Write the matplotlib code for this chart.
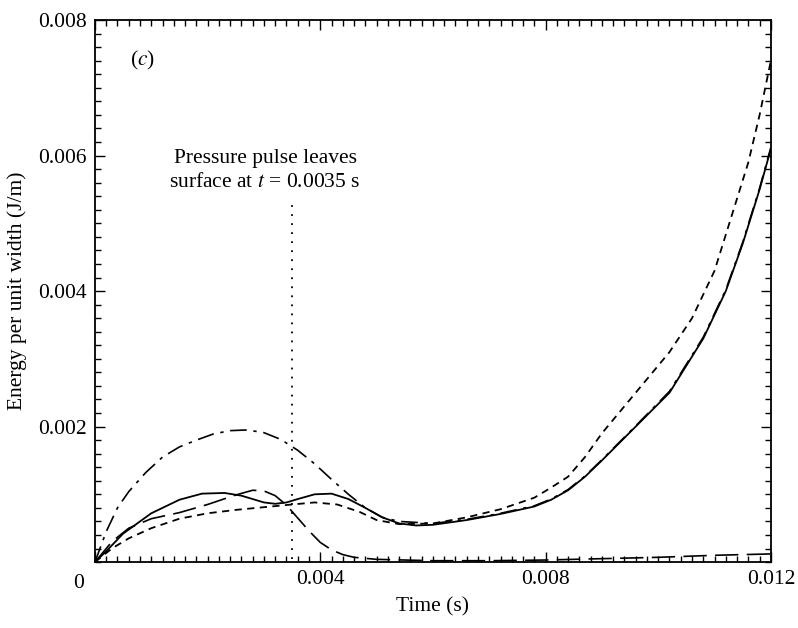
import numpy as np
import matplotlib.pyplot as plt
from matplotlib.ticker import MultipleLocator

plt.rcParams['font.family'] = ['Liberation Serif', 'DejaVu Serif']
plt.rcParams['mathtext.fontset'] = 'stix'

# solid curve
t_solid = [0, 0.0002, 0.0005, 0.001, 0.0015, 0.0019, 0.0023, 0.0026, 0.0028, 0.003, 0.0032,
           0.0034, 0.0036, 0.0039, 0.0042, 0.0045, 0.0048, 0.0051, 0.0054, 0.0057, 0.006,
           0.0066, 0.0072, 0.0078, 0.0081, 0.0084, 0.0087, 0.009, 0.0096, 0.0102,
           0.0108, 0.0112, 0.0115, 0.0118, 0.012]
e_solid = [0, 0.00016, 0.00042, 0.00072, 0.00092, 0.00101, 0.00102, 0.00098, 0.00093, 0.00088, 0.00086,
           0.00088, 0.00093, 0.001, 0.00101, 0.00093, 0.0008, 0.00066, 0.00057, 0.00054, 0.00055,
           0.00062, 0.00071, 0.00082, 0.00092, 0.00106, 0.00126, 0.0015, 0.002, 0.0025,
           0.0033, 0.004, 0.0047, 0.0055, 0.0061]

# short dashed curve
t_dash = [0, 0.0003, 0.0006, 0.001, 0.0015, 0.002, 0.0025, 0.003, 0.0035, 0.0039,
          0.0043, 0.0047, 0.005, 0.0054, 0.006, 0.0066, 0.0072, 0.0078, 0.0081, 0.0084,
          0.0087, 0.009, 0.0096, 0.0102, 0.0106, 0.011, 0.0113, 0.0116, 0.0118, 0.012]
e_dash = [0, 0.0002, 0.00035, 0.0005, 0.00064, 0.00072, 0.00077, 0.00081, 0.00085, 0.00088,
          0.00085, 0.00074, 0.00062, 0.00056, 0.00057, 0.00066, 0.00078, 0.00095, 0.0011, 0.00126,
          0.00155, 0.0019, 0.0025, 0.0031, 0.0036, 0.0043, 0.0051, 0.0059, 0.0066, 0.0074]

# dash-dot curve
t_dd = [0, 0.0002, 0.0004, 0.0006, 0.0009, 0.0012, 0.0015, 0.0018, 0.0021, 0.0024, 0.0027,
        0.003, 0.0033, 0.0036, 0.0039, 0.0042, 0.0045, 0.0048, 0.0051, 0.0054, 0.006,
        0.0066, 0.0072, 0.0078, 0.0081, 0.0084, 0.0087, 0.009, 0.0096, 0.0102, 0.0108,
        0.0112, 0.0115, 0.0118, 0.012]
e_dd = [0, 0.00045, 0.0008, 0.00104, 0.00132, 0.00155, 0.0017, 0.0018, 0.00189, 0.00194, 0.00195,
        0.00191, 0.00181, 0.00165, 0.00145, 0.00122, 0.001, 0.0008, 0.00066, 0.0006, 0.00057,
        0.00063, 0.00072, 0.00083, 0.00093, 0.00107, 0.00127, 0.00151, 0.00201, 0.00252, 0.00332,
        0.00402, 0.00472, 0.00552, 0.00612]

# long dashed curve
t_ld = [0, 0.0003, 0.0006, 0.001, 0.0015, 0.002, 0.0025, 0.0028, 0.003, 0.0032, 0.0034,
        0.0036, 0.0038, 0.004, 0.0042, 0.0044, 0.0046, 0.005, 0.006, 0.007, 0.008, 0.009,
        0.010, 0.011, 0.012]
e_ld = [0, 0.0003, 0.0005, 0.00064, 0.00073, 0.00085, 0.00099, 0.00106, 0.00105, 0.00098, 0.00084,
        0.00065, 0.00046, 0.00029, 0.00018, 0.00011, 0.00007, 0.00004, 0.00002, 0.00002, 0.00003, 0.00005,
        0.00007, 0.0001, 0.00012]

t_pulse = 0.0035

fig = plt.figure(figsize=(7.98, 6.28), dpi=100)
ax = fig.add_axes([0.119, 0.105, 0.847, 0.863])

ax.plot(t_solid, e_solid, color='black', lw=1.3)
ax.plot(t_dash, e_dash, color='black', lw=1.3, dashes=(4, 3))
ax.plot(t_dd, e_dd, color='black', lw=1.2, dashes=(10, 4, 2, 4))
ax.plot(t_ld, e_ld, color='black', lw=1.2, dashes=(14, 5))
ax.plot([t_pulse, t_pulse], [0.00005, 0.00527], color='black', lw=1.3, dashes=(1, 4))

ax.set_xlim(0, 0.012)
ax.set_ylim(0, 0.008)
ax.set_xticks([0, 0.004, 0.008, 0.012])
ax.set_xticklabels(['', '0.004', '0.008', '0.012'])
ax.set_yticks([0.002, 0.004, 0.006, 0.008])
ax.set_yticklabels(['0.002', '0.004', '0.006', '0.008'])
ax.xaxis.set_minor_locator(MultipleLocator(0.0002))
ax.yaxis.set_minor_locator(MultipleLocator(0.0002))
ax.tick_params(which='both', direction='in', top=True, right=True, labelsize=15.5, width=1.0)
ax.tick_params(which='major', length=7, pad=6)
ax.tick_params(which='minor', length=4)
for s in ax.spines.values():
    s.set_linewidth(1.3)

ax.text(-0.0003, -0.00017, '0', ha='center', va='top', fontsize=15.5)
ax.set_xlabel('Time (s)', fontsize=15.5, labelpad=6)
ax.set_ylabel('Energy per unit width (J/m)', fontsize=15.5, labelpad=8)

ax.text(0.00062, 0.0074, r'($c$)', fontsize=15.5, va='center')
ax.text(0.00302, 0.00578, 'Pressure pulse leaves\nsurface at $t$ = 0.0035 s',
        ha='center', va='center', fontsize=15.5, linespacing=1.3)

fig.savefig('out.png', dpi=100)
